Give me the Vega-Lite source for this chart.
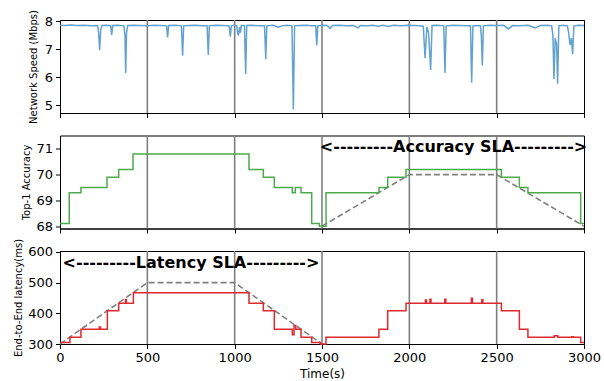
{
  "$schema": "https://vega.github.io/schema/vega-lite/v6.json",
  "padding": {"left": 12, "top": 9, "right": 5, "bottom": 1},
  "spacing": 22.5,
  "bounds": "flush",
  "config": {
    "font": "DejaVu Sans",
    "view": {"stroke": "black", "strokeWidth": 1},
    "axis": {"labelFont": "DejaVu Sans", "labelFontSize": 13, "labelColor": "black", "tickColor": "black", "tickSize": 4.5, "labelPadding": 3, "domainColor": "black", "grid": false, "titleFont": "DejaVu Sans", "titleFontWeight": "normal", "titleColor": "black", "labelOverlap": false, "labelFlush": false, "format": "d"}
  },
  "datasets": {
    "vlines": [{"t": 500}, {"t": 1000}, {"t": 1500}, {"t": 2000}, {"t": 2500}],
    "speed": [
      {"t": 0, "v": 7.86}, {"t": 30, "v": 7.85}, {"t": 60, "v": 7.87}, {"t": 100, "v": 7.85}, {"t": 140, "v": 7.86}, {"t": 180, "v": 7.84}, {"t": 215, "v": 7.85}, {"t": 221, "v": 7.6}, {"t": 227, "v": 6.98}, {"t": 233, "v": 7.7}, {"t": 240, "v": 7.85}, {"t": 265, "v": 7.86}, {"t": 290, "v": 7.85}, {"t": 296, "v": 7.52}, {"t": 302, "v": 7.85}, {"t": 330, "v": 7.86}, {"t": 366, "v": 7.84}, {"t": 372, "v": 7.5}, {"t": 376, "v": 6.15}, {"t": 381, "v": 7.6}, {"t": 388, "v": 7.85}, {"t": 420, "v": 7.86}, {"t": 460, "v": 7.85}, {"t": 500, "v": 7.84}, {"t": 540, "v": 7.86}, {"t": 580, "v": 7.85}, {"t": 610, "v": 7.84}, {"t": 616, "v": 7.43}, {"t": 622, "v": 7.85}, {"t": 660, "v": 7.86}, {"t": 695, "v": 7.84}, {"t": 702, "v": 6.77}, {"t": 708, "v": 7.84}, {"t": 740, "v": 7.85}, {"t": 780, "v": 7.86}, {"t": 810, "v": 7.84}, {"t": 842, "v": 7.84}, {"t": 849, "v": 6.8}, {"t": 855, "v": 7.84}, {"t": 890, "v": 7.86}, {"t": 930, "v": 7.85}, {"t": 968, "v": 7.84}, {"t": 975, "v": 7.45}, {"t": 981, "v": 7.84}, {"t": 1000, "v": 7.86}, {"t": 1012, "v": 7.84}, {"t": 1017, "v": 7.55}, {"t": 1022, "v": 7.52}, {"t": 1028, "v": 7.8}, {"t": 1033, "v": 7.6}, {"t": 1038, "v": 7.85}, {"t": 1056, "v": 7.85}, {"t": 1063, "v": 6.12}, {"t": 1069, "v": 7.85}, {"t": 1100, "v": 7.86}, {"t": 1140, "v": 7.84}, {"t": 1171, "v": 7.84}, {"t": 1178, "v": 6.65}, {"t": 1184, "v": 7.84}, {"t": 1220, "v": 7.86}, {"t": 1250, "v": 7.79}, {"t": 1270, "v": 7.84}, {"t": 1300, "v": 7.86}, {"t": 1328, "v": 7.84}, {"t": 1336, "v": 4.85}, {"t": 1343, "v": 7.84}, {"t": 1370, "v": 7.85}, {"t": 1410, "v": 7.86}, {"t": 1440, "v": 7.84}, {"t": 1464, "v": 7.84}, {"t": 1470, "v": 7.14}, {"t": 1476, "v": 7.84}, {"t": 1500, "v": 7.86}, {"t": 1530, "v": 7.85}, {"t": 1546, "v": 7.75}, {"t": 1560, "v": 7.85}, {"t": 1600, "v": 7.86}, {"t": 1640, "v": 7.84}, {"t": 1680, "v": 7.85}, {"t": 1707, "v": 7.77}, {"t": 1720, "v": 7.85}, {"t": 1760, "v": 7.84}, {"t": 1790, "v": 7.86}, {"t": 1820, "v": 7.83}, {"t": 1850, "v": 7.86}, {"t": 1880, "v": 7.82}, {"t": 1910, "v": 7.86}, {"t": 1950, "v": 7.84}, {"t": 1990, "v": 7.86}, {"t": 2030, "v": 7.85}, {"t": 2060, "v": 7.84}, {"t": 2080, "v": 7.82}, {"t": 2090, "v": 6.68}, {"t": 2100, "v": 7.8}, {"t": 2110, "v": 7.6}, {"t": 2122, "v": 6.26}, {"t": 2130, "v": 7.85}, {"t": 2160, "v": 7.86}, {"t": 2197, "v": 7.84}, {"t": 2204, "v": 6.15}, {"t": 2211, "v": 7.84}, {"t": 2250, "v": 7.86}, {"t": 2290, "v": 7.85}, {"t": 2330, "v": 7.84}, {"t": 2350, "v": 7.84}, {"t": 2357, "v": 5.8}, {"t": 2364, "v": 7.84}, {"t": 2395, "v": 7.85}, {"t": 2407, "v": 7.84}, {"t": 2412, "v": 7.5}, {"t": 2418, "v": 6.42}, {"t": 2424, "v": 7.84}, {"t": 2460, "v": 7.86}, {"t": 2500, "v": 7.85}, {"t": 2540, "v": 7.86}, {"t": 2567, "v": 7.73}, {"t": 2590, "v": 7.85}, {"t": 2630, "v": 7.84}, {"t": 2680, "v": 7.86}, {"t": 2719, "v": 7.77}, {"t": 2750, "v": 7.85}, {"t": 2790, "v": 7.86}, {"t": 2815, "v": 7.84}, {"t": 2822, "v": 7.5}, {"t": 2828, "v": 5.94}, {"t": 2835, "v": 7.4}, {"t": 2843, "v": 7.2}, {"t": 2849, "v": 5.77}, {"t": 2856, "v": 7.84}, {"t": 2880, "v": 7.86}, {"t": 2905, "v": 7.84}, {"t": 2912, "v": 7.6}, {"t": 2920, "v": 7.16}, {"t": 2928, "v": 7.4}, {"t": 2935, "v": 6.83}, {"t": 2942, "v": 7.84}, {"t": 2970, "v": 7.86}, {"t": 3000, "v": 7.85}
    ],
    "acc": [
      {"t": 0, "v": 68.1}, {"t": 53, "v": 69.3}, {"t": 120, "v": 69.5}, {"t": 269, "v": 69.9}, {"t": 336, "v": 70.2}, {"t": 418, "v": 70.8}, {"t": 1082, "v": 70.2}, {"t": 1164, "v": 69.9}, {"t": 1227, "v": 69.5}, {"t": 1330, "v": 69.3}, {"t": 1347, "v": 69.5}, {"t": 1380, "v": 69.3}, {"t": 1441, "v": 68.1}, {"t": 1485, "v": 68.0}, {"t": 1523, "v": 69.3}, {"t": 1826, "v": 69.5}, {"t": 1876, "v": 69.9}, {"t": 1981, "v": 70.2}, {"t": 2527, "v": 69.9}, {"t": 2630, "v": 69.5}, {"t": 2679, "v": 69.3}, {"t": 2981, "v": 68.1}, {"t": 3000, "v": 68.1}
    ],
    "accsla": [{"t": 1500, "v": 68.0}, {"t": 2000, "v": 70.0}, {"t": 2500, "v": 70.0}, {"t": 3000, "v": 68.0}],
    "lat": [
      {"t": 0, "v": 305}, {"t": 57, "v": 322}, {"t": 120, "v": 348}, {"t": 225, "v": 355}, {"t": 232, "v": 348}, {"t": 271, "v": 408}, {"t": 336, "v": 433}, {"t": 375, "v": 445}, {"t": 380, "v": 433}, {"t": 420, "v": 467}, {"t": 1082, "v": 433}, {"t": 1164, "v": 408}, {"t": 1227, "v": 348}, {"t": 1330, "v": 330}, {"t": 1340, "v": 360}, {"t": 1350, "v": 348}, {"t": 1380, "v": 322}, {"t": 1441, "v": 305}, {"t": 1490, "v": 300}, {"t": 1523, "v": 322}, {"t": 1826, "v": 348}, {"t": 1876, "v": 408}, {"t": 1981, "v": 433}, {"t": 2092, "v": 443}, {"t": 2098, "v": 433}, {"t": 2118, "v": 446}, {"t": 2124, "v": 433}, {"t": 2203, "v": 446}, {"t": 2209, "v": 433}, {"t": 2355, "v": 449}, {"t": 2361, "v": 433}, {"t": 2415, "v": 444}, {"t": 2421, "v": 433}, {"t": 2527, "v": 408}, {"t": 2630, "v": 348}, {"t": 2679, "v": 322}, {"t": 2830, "v": 327}, {"t": 2850, "v": 322}, {"t": 2930, "v": 324}, {"t": 2940, "v": 322}, {"t": 2981, "v": 305}, {"t": 3000, "v": 305}
    ],
    "latsla": [{"t": 0, "v": 300}, {"t": 500, "v": 500}, {"t": 1000, "v": 500}, {"t": 1500, "v": 300}],
    "acclabel": [{"t": 2253, "v": 71.06, "label": "<---------Accuracy SLA--------->"}],
    "latlabel": [{"t": 750, "v": 565, "label": "<---------Latency SLA--------->"}]
  },
  "vconcat": [
    {
      "width": 524, "height": 93,
      "layer": [
        {"data": {"name": "vlines"}, "mark": {"type": "rule", "color": "#808080", "strokeWidth": 1.6},
         "encoding": {"x": {"field": "t", "type": "quantitative", "scale": {"domain": [0, 3000], "nice": false}, "axis": {"values": [0, 500, 1000, 1500, 2000, 2500, 3000], "labels": false, "title": null}}}},
        {"data": {"name": "speed"}, "mark": {"type": "line", "color": "#62a2cf", "strokeWidth": 1.5},
         "encoding": {
           "x": {"field": "t", "type": "quantitative", "scale": {"domain": [0, 3000], "nice": false}, "axis": {"values": [0, 500, 1000, 1500, 2000, 2500, 3000], "labels": false, "title": null}},
           "y": {"field": "v", "type": "quantitative", "scale": {"domain": [4.72, 8.05], "nice": false, "zero": false}, "axis": {"values": [5, 6, 7, 8], "title": "Network Speed (Mbps)", "titleFontSize": 10, "titleX": -27, "titleBaseline": "middle"}}
         }}
      ]
    },
    {
      "width": 524, "height": 93,
      "layer": [
        {"data": {"name": "vlines"}, "mark": {"type": "rule", "color": "#808080", "strokeWidth": 1.6},
         "encoding": {"x": {"field": "t", "type": "quantitative", "scale": {"domain": [0, 3000], "nice": false}, "axis": {"values": [0, 500, 1000, 1500, 2000, 2500, 3000], "labels": false, "title": null}}}},
        {"data": {"name": "accsla"}, "mark": {"type": "line", "color": "#808080", "strokeWidth": 1.6, "strokeDash": [6, 3]},
         "encoding": {
           "x": {"field": "t", "type": "quantitative", "scale": {"domain": [0, 3000], "nice": false}, "axis": {"values": [0, 500, 1000, 1500, 2000, 2500, 3000], "labels": false, "title": null}},
           "y": {"field": "v", "type": "quantitative", "scale": {"domain": [67.91, 71.52], "nice": false, "zero": false}, "axis": {"values": [68, 69, 70, 71], "title": "Top-1 Accuracy", "titleFontSize": 10, "titleX": -34, "titleBaseline": "middle"}}
         }},
        {"data": {"name": "acc"}, "mark": {"type": "line", "color": "#4caa4c", "strokeWidth": 1.5, "interpolate": "step-after"},
         "encoding": {
           "x": {"field": "t", "type": "quantitative", "scale": {"domain": [0, 3000], "nice": false}, "axis": {"values": [0, 500, 1000, 1500, 2000, 2500, 3000], "labels": false, "title": null}},
           "y": {"field": "v", "type": "quantitative", "scale": {"domain": [67.91, 71.52], "nice": false, "zero": false}, "axis": {"values": [68, 69, 70, 71], "title": "Top-1 Accuracy", "titleFontSize": 10, "titleX": -34, "titleBaseline": "middle"}}
         }},
        {"data": {"name": "acclabel"}, "mark": {"type": "text", "font": "DejaVu Sans", "fontWeight": "bold", "fontSize": 16, "color": "black", "align": "center", "baseline": "middle"},
         "encoding": {
           "x": {"field": "t", "type": "quantitative", "scale": {"domain": [0, 3000], "nice": false}, "axis": {"values": [0, 500, 1000, 1500, 2000, 2500, 3000], "labels": false, "title": null}},
           "y": {"field": "v", "type": "quantitative", "scale": {"domain": [67.91, 71.52], "nice": false, "zero": false}, "axis": {"values": [68, 69, 70, 71], "title": "Top-1 Accuracy", "titleFontSize": 10, "titleX": -34, "titleBaseline": "middle"}},
           "text": {"field": "label"}
         }}
      ]
    },
    {
      "width": 524, "height": 93,
      "layer": [
        {"data": {"name": "vlines"}, "mark": {"type": "rule", "color": "#808080", "strokeWidth": 1.6},
         "encoding": {"x": {"field": "t", "type": "quantitative", "scale": {"domain": [0, 3000], "nice": false}, "axis": {"values": [0, 500, 1000, 1500, 2000, 2500, 3000], "title": "Time(s)", "titleFontSize": 12, "titlePadding": 4}}}},
        {"data": {"name": "latsla"}, "mark": {"type": "line", "color": "#808080", "strokeWidth": 1.6, "strokeDash": [6, 3]},
         "encoding": {
           "x": {"field": "t", "type": "quantitative", "scale": {"domain": [0, 3000], "nice": false}, "axis": {"values": [0, 500, 1000, 1500, 2000, 2500, 3000], "title": "Time(s)", "titleFontSize": 12, "titlePadding": 4}},
           "y": {"field": "v", "type": "quantitative", "scale": {"domain": [300, 603], "nice": false, "zero": false}, "axis": {"values": [300, 400, 500, 600], "title": "End-to-End latency(ms)", "titleFontSize": 10, "titleX": -42, "titleBaseline": "middle"}}
         }},
        {"data": {"name": "lat"}, "mark": {"type": "line", "color": "#dd2a2e", "strokeWidth": 1.5, "interpolate": "step-after"},
         "encoding": {
           "x": {"field": "t", "type": "quantitative", "scale": {"domain": [0, 3000], "nice": false}, "axis": {"values": [0, 500, 1000, 1500, 2000, 2500, 3000], "title": "Time(s)", "titleFontSize": 12, "titlePadding": 4}},
           "y": {"field": "v", "type": "quantitative", "scale": {"domain": [300, 603], "nice": false, "zero": false}, "axis": {"values": [300, 400, 500, 600], "title": "End-to-End latency(ms)", "titleFontSize": 10, "titleX": -42, "titleBaseline": "middle"}}
         }},
        {"data": {"name": "latlabel"}, "mark": {"type": "text", "font": "DejaVu Sans", "fontWeight": "bold", "fontSize": 16, "color": "black", "align": "center", "baseline": "middle"},
         "encoding": {
           "x": {"field": "t", "type": "quantitative", "scale": {"domain": [0, 3000], "nice": false}, "axis": {"values": [0, 500, 1000, 1500, 2000, 2500, 3000], "title": "Time(s)", "titleFontSize": 12, "titlePadding": 4}},
           "y": {"field": "v", "type": "quantitative", "scale": {"domain": [300, 603], "nice": false, "zero": false}, "axis": {"values": [300, 400, 500, 600], "title": "End-to-End latency(ms)", "titleFontSize": 10, "titleX": -42, "titleBaseline": "middle"}},
           "text": {"field": "label"}
         }}
      ]
    }
  ]
}
